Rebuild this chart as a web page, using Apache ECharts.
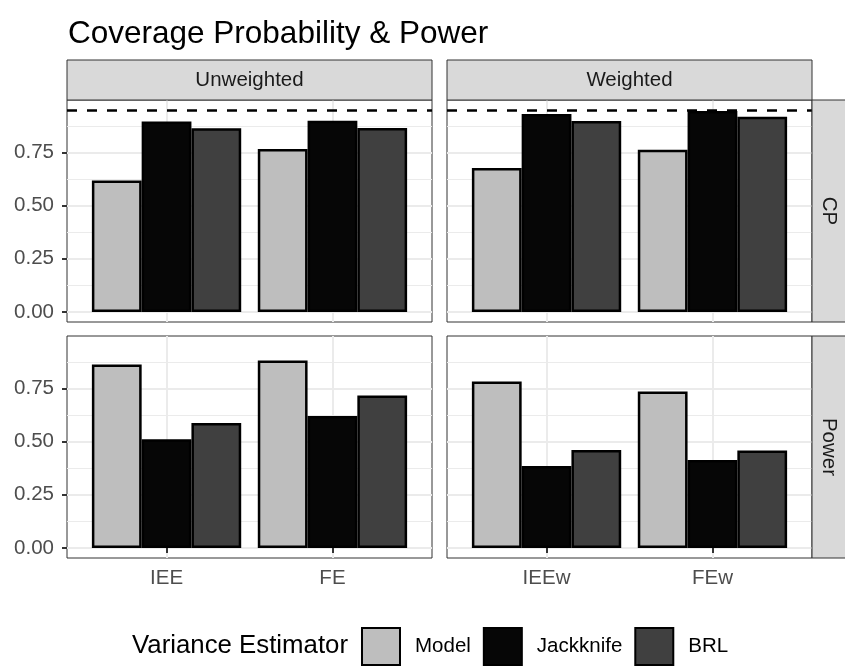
<!DOCTYPE html>
<html><head><meta charset="utf-8">
<script src="https://cdn.jsdelivr.net/npm/echarts@6/dist/echarts.min.js"></script>
<style>html,body{margin:0;padding:0;background:#fff}#c{width:845px;height:666px}</style>
</head><body><div id="c"></div>
<script>
// ---------------- data ----------------
const estimators = ['Model', 'Jackknife', 'BRL'];
const colFacets = ['Unweighted', 'Weighted'];
const rowFacets = ['CP', 'Power'];
const xCatsUnweighted = ['IEE', 'FE'];
const xCatsWeighted = ['IEEw', 'FEw'];
const yTickValues = [0, 0.25, 0.5, 0.75];
const yMinorTickValues = [0.125, 0.375, 0.625, 0.875];
const nominalCoverage = 0.95;

// CP, Unweighted (IEE, FE)
const cpUnwModel = [0.618, 0.767];
const cpUnwJackknife = [0.896, 0.900];
const cpUnwBRL = [0.865, 0.866];
// CP, Weighted (IEEw, FEw)
const cpWModel = [0.677, 0.763];
const cpWJackknife = [0.932, 0.946];
const cpWBRL = [0.899, 0.919];
// Power, Unweighted
const powUnwModel = [0.863, 0.882];
const powUnwJackknife = [0.511, 0.621];
const powUnwBRL = [0.588, 0.717];
// Power, Weighted
const powWModel = [0.783, 0.736];
const powWJackknife = [0.386, 0.414];
const powWBRL = [0.461, 0.458];

// ---------------- styling / layout ----------------
const FONT = 'Liberation Sans, Arial, sans-serif';
const fills = { Model: '#BEBEBE', Jackknife: '#060606', BRL: '#404040' };
const colLeft = [67, 447];
const rowTop = [100, 336];
const panelW = 365, panelH = 222;
const xMin = 0.4, xMax = 2.6;
const barW = panelW * 0.3 / (xMax - xMin);

const panels = [
  { row: 0, col: 0, cats: xCatsUnweighted, vals: [cpUnwModel, cpUnwJackknife, cpUnwBRL] },
  { row: 0, col: 1, cats: xCatsWeighted, vals: [cpWModel, cpWJackknife, cpWBRL] },
  { row: 1, col: 0, cats: xCatsUnweighted, vals: [powUnwModel, powUnwJackknife, powUnwBRL] },
  { row: 1, col: 1, cats: xCatsWeighted, vals: [powWModel, powWJackknife, powWBRL] }
];

// y range like ggplot: data range [0, max] expanded 5%
let dataMax = nominalCoverage;
panels.forEach(p => p.vals.forEach(a => a.forEach(v => { if (v > dataMax) dataMax = v; })));
const span = dataMax - 0;
const yMin = 0 - 0.05 * span, yMax = dataMax + 0.05 * span;

const grid = [], xAxis = [], yAxis = [], series = [];
panels.forEach((p, i) => {
  grid.push({ left: colLeft[p.col], top: rowTop[p.row], width: panelW, height: panelH,
    show: true, borderColor: '#333333', borderWidth: 1, backgroundColor: '#fff' });
  const xPos = p.cats.map((c, k) => k + 1);
  xAxis.push({ gridIndex: i, type: 'value', min: xMin, max: xMax,
    axisLine: { show: false },
    axisTick: { show: p.row === 1, customValues: xPos, length: 5, lineStyle: { color: '#333333', width: 2 } },
    axisLabel: { show: p.row === 1, customValues: xPos, formatter: v => p.cats[Math.round(v) - 1],
      fontSize: 20.5, color: '#4D4D4D', fontFamily: FONT, margin: 10 },
    splitLine: { show: true, lineStyle: { color: '#EBEBEB', width: 2 } } });
  yAxis.push({ gridIndex: i, type: 'value', min: yMin, max: yMax,
    axisLine: { show: false },
    axisTick: { show: p.col === 0, customValues: yTickValues, length: 5, lineStyle: { color: '#333333', width: 2 } },
    axisLabel: { show: p.col === 0, customValues: yTickValues, formatter: v => v.toFixed(2),
      fontSize: 20.5, color: '#4D4D4D', fontFamily: FONT, margin: 13 },
    splitLine: { show: true, lineStyle: { color: '#EBEBEB', width: 2 } } });
  yAxis.push({ gridIndex: i, type: 'value', min: yMin, max: yMax,
    axisLine: { show: false },
    axisTick: { show: false, customValues: yMinorTickValues },
    axisLabel: { show: false, customValues: yMinorTickValues },
    splitLine: { show: true, lineStyle: { color: '#EBEBEB', width: 1 } } });
  estimators.forEach((e, k) => {
    const s = {
      type: 'bar', name: e, xAxisIndex: i, yAxisIndex: 2 * i,
      data: p.vals[k].map((v, j) => [xPos[j], v]),
      barWidth: barW, barGap: '0%',
      itemStyle: { color: fills[e], borderColor: '#000', borderWidth: 2.5 },
      emphasis: { disabled: true }, silent: true
    };
    if (p.row === 0 && k === estimators.length - 1) {
      s.markLine = { silent: true, symbol: 'none', label: { show: false },
        lineStyle: { color: '#000', width: 2.5, type: [10, 10] },
        emphasis: { disabled: true },
        data: [{ yAxis: nominalCoverage }] };
    }
    series.push(s);
  });
});

const graphic = [];
colFacets.forEach((name, c) => {
  graphic.push({ type: 'rect', shape: { x: colLeft[c], y: 60, width: panelW, height: 40 },
    style: { fill: '#D9D9D9', stroke: '#333333', lineWidth: 1 }, z: 10 });
  graphic.push({ type: 'text', x: colLeft[c] + panelW / 2, y: 80,
    style: { text: name, fill: '#1A1A1A', font: '20.5px ' + FONT, textAlign: 'center', textVerticalAlign: 'middle' }, z: 11 });
});
rowFacets.forEach((name, r) => {
  graphic.push({ type: 'rect', shape: { x: colLeft[1] + panelW, y: rowTop[r], width: 40, height: panelH },
    style: { fill: '#D9D9D9', stroke: '#333333', lineWidth: 1 }, z: 10 });
  graphic.push({ type: 'text', x: colLeft[1] + panelW + 17, y: rowTop[r] + panelH / 2, rotation: -Math.PI / 2,
    style: { text: name, fill: '#1A1A1A', font: '20.5px ' + FONT, textAlign: 'center', textVerticalAlign: 'middle' }, z: 11 });
});
graphic.push({ type: 'text', x: 132, y: 646,
  style: { text: 'Variance Estimator', fill: '#000', font: '25.8px ' + FONT, textAlign: 'left', textVerticalAlign: 'middle' } });

const chart = echarts.init(document.getElementById('c'), null, { renderer: 'canvas' });
chart.setOption({
  animation: false,
  backgroundColor: '#fff',
  title: { text: 'Coverage Probability & Power', left: 63, top: 13,
    textStyle: { fontSize: 31.5, fontWeight: 'normal', color: '#000', fontFamily: FONT } },
  legend: { left: 361, top: 627, padding: 0, itemWidth: 38, itemHeight: 37, itemGap: 12, icon: 'rect',
    selectedMode: false, data: estimators,
    textStyle: { fontSize: 20.5, color: '#000', fontFamily: FONT, padding: [0, 0, 0, 10] } },
  grid, xAxis, yAxis, series, graphic
});
</script></body></html>
